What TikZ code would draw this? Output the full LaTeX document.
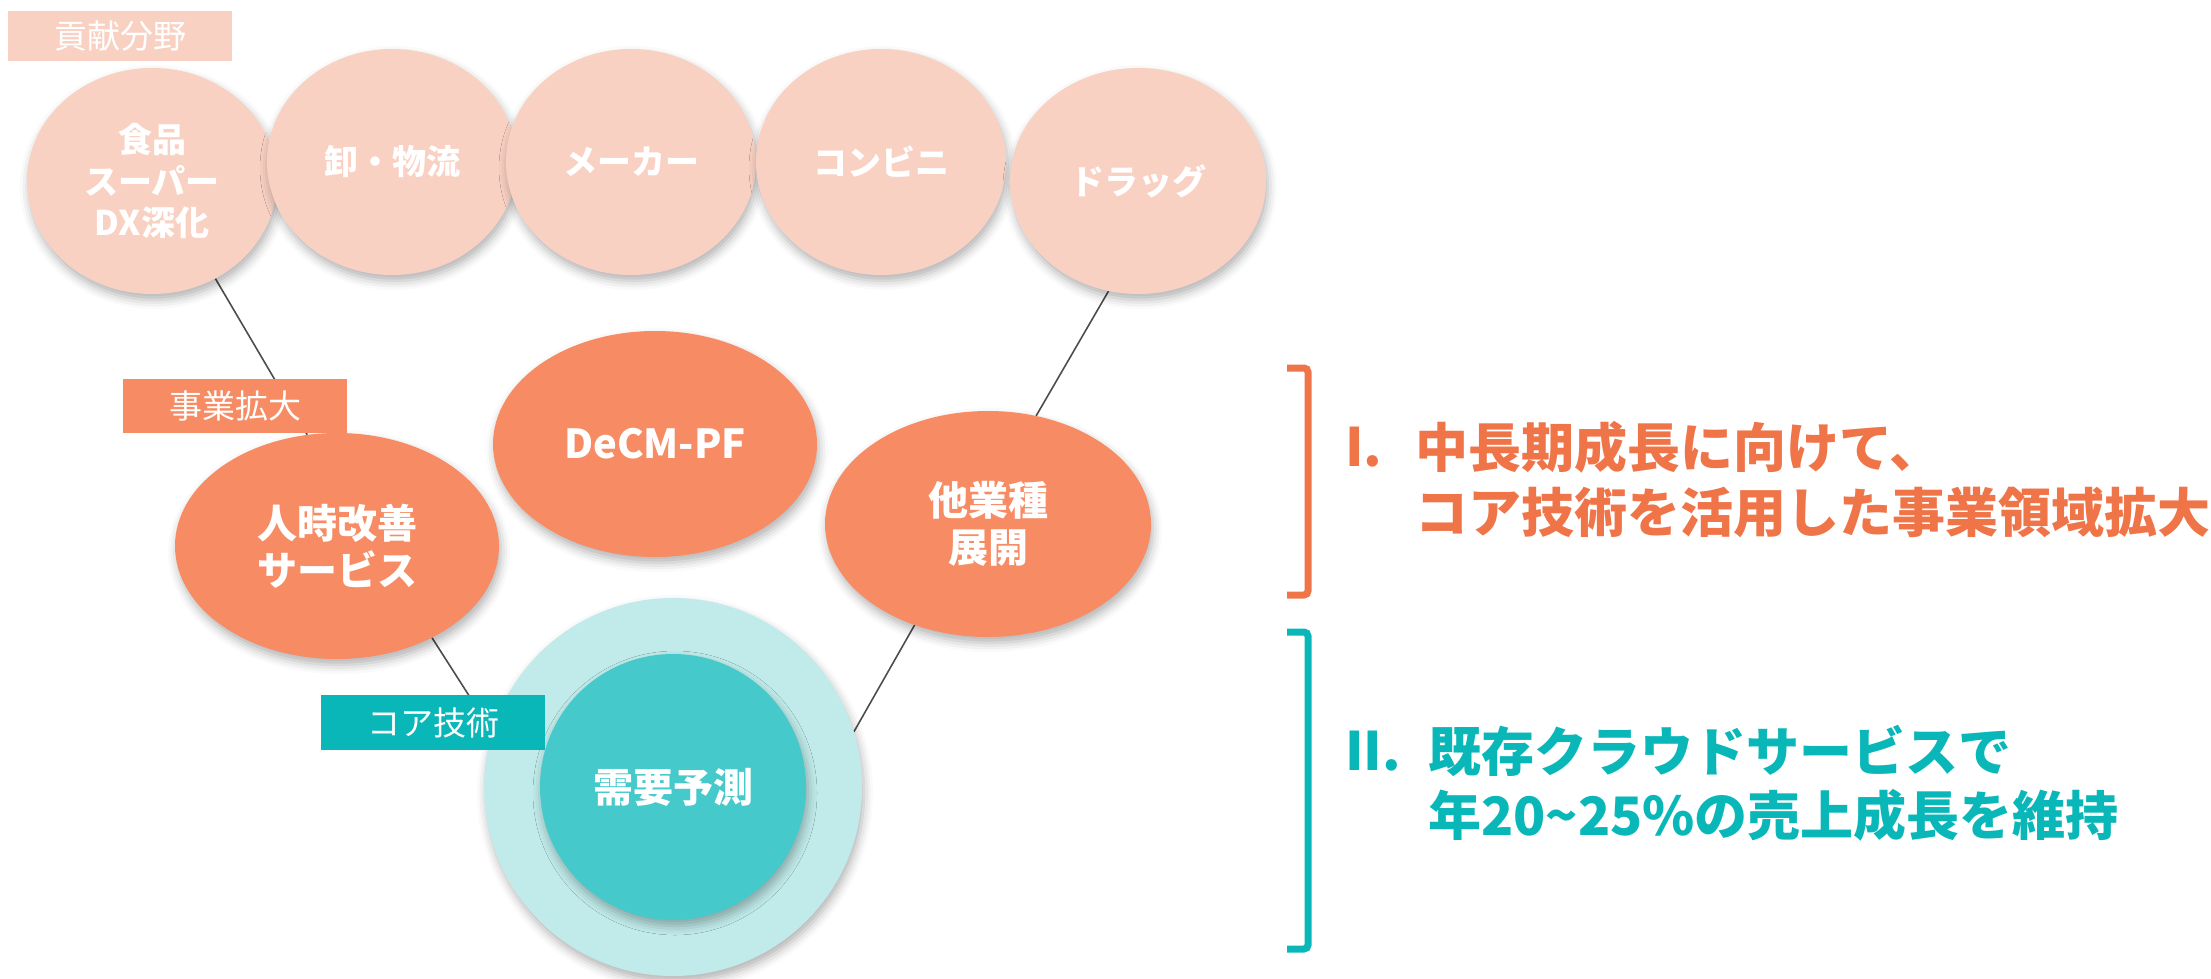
\documentclass[tikz,border=0pt]{standalone}
\usepackage{fontspec}
\newfontfamily\jp{Noto Sans CJK JP}
\usetikzlibrary{shapes.geometric,shadows.blur,backgrounds}
\definecolor{peach}{HTML}{F9D1C3}
\definecolor{salmon}{HTML}{F78B63}
\definecolor{orangetxt}{HTML}{EF7549}
\definecolor{tealc}{HTML}{0AB7B8}
\definecolor{innerc}{HTML}{46C9CA}
\definecolor{outerc}{HTML}{C0EBEA}
\definecolor{linec}{HTML}{4D4D4D}
\tikzset{
  soft/.style={blur shadow={shadow xshift=2pt, shadow yshift=-6pt, shadow blur radius=9pt, shadow opacity=30}},
  topell/.style={ellipse, soft, fill=peach, minimum width=250pt, minimum height=226pt, inner sep=0pt,
    text=white, align=center, font=\jp\bfseries\fontsize{34}{41.5}\selectfont},
  midell/.style={ellipse, soft, fill=salmon, minimum width=324pt, minimum height=226pt, inner sep=0pt,
    text=white, align=center, font=\jp\bfseries\fontsize{40}{47}\selectfont},
  tagbox/.style={rectangle, inner sep=0pt, minimum width=224pt, minimum height=52pt, text=white,
    font=\jp\fontsize{33}{40}\selectfont},
  conn/.style={draw=linec, line width=1.6pt},
  brk/.style={line width=7pt, rounded corners=4pt},
  rtxt/.style={anchor=west, inner sep=0pt, font=\jp\bfseries\fontsize{53}{64}\selectfont}
}
\begin{document}
\begin{tikzpicture}[x=1pt,y=-1pt]
\useasboundingbox (0,0) rectangle (2211,979);
% top row
\node[topell] (shoku) at (152,181) {食品\\スーパー\\DX深化};
\node[topell] (oroshi) at (392,162) {卸・物流};
\node[topell] (maker) at (631,162) {メーカー};
\node[topell] (conv) at (881,162) {コンビニ};
\node[topell, minimum width=256pt] (drug) at (1138,181) {ドラッグ};
\node[tagbox, fill=peach, minimum height=50pt] (kouken) at (120,36) {貢献分野};
% middle row
\node[midell] (jinji) at (337,546) {人時改善\\サービス};
\node[midell] (decm) at (655,444) {DeCM-PF};
\node[midell, minimum width=326pt] (tagyo) at (988,524) {他業種\\展開};
% core
\node[circle, soft, fill=outerc, minimum size=378pt, inner sep=0pt] (outer) at (673,787) {};
\node[circle, soft, fill=innerc, minimum size=266pt, inner sep=0pt, text=white,
  font=\jp\bfseries\fontsize{40}{47}\selectfont] (demand) at (673,787) {需要予測};
% tags
\node[tagbox, fill=salmon, minimum height=54pt] (jigyo) at (235,406) {事業拡大};
\node[tagbox, fill=tealc, minimum height=55pt] (core) at (433,722.5) {コア技術};
% connectors
\begin{pgfonlayer}{background}
\draw[conn] (shoku.-57) -- (jinji.105);
\draw[conn] (jinji.-44) -- (outer.163);
\draw[conn] (drug.-105.5) -- (tagyo.66.5);
\draw[conn] (tagyo.-126) -- (outer.17);
\end{pgfonlayer}
% brackets
\draw[brk, orangetxt] (1287,368) -- (1308,368) -- (1308,595) -- (1287,595);
\draw[brk, tealc] (1287,632) -- (1308,632) -- (1308,949) -- (1287,949);
% right texts
\node[rtxt, text=orangetxt] (n1) at (1345,447) {I.};
\node[rtxt, text=orangetxt] (t1a) at (1415,447) {中長期成長に向けて、};
\node[rtxt, text=orangetxt] (t1b) at (1415,512) {コア技術を活用した事業領域拡大};
\node[rtxt, text=tealc] (n2) at (1345,751) {II.};
\node[rtxt, text=tealc] (t2a) at (1428,751) {既存クラウドサービスで};
\node[rtxt, text=tealc] (t2b) at (1428,815) {年20\textasciitilde 25\%の売上成長を維持};
\end{tikzpicture}
\end{document}
